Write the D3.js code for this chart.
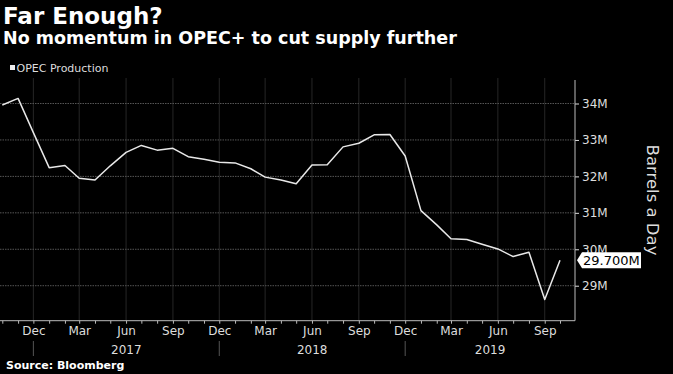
<!DOCTYPE html>
<meta charset="utf-8">
<script src="https://d3js.org/d3.v7.min.js"></script>
<style>
  body { margin: 0; background: #000; }
  text { font-family: "DejaVu Sans", sans-serif; }
</style>
<body>
<div id="my_dataviz"></div>
<script>

// data (million barrels a day, monthly)
var months = ["2016-10","2016-11","2016-12",
  "2017-01","2017-02","2017-03","2017-04","2017-05","2017-06","2017-07","2017-08","2017-09","2017-10","2017-11","2017-12",
  "2018-01","2018-02","2018-03","2018-04","2018-05","2018-06","2018-07","2018-08","2018-09","2018-10","2018-11","2018-12",
  "2019-01","2019-02","2019-03","2019-04","2019-05","2019-06","2019-07","2019-08","2019-09","2019-10"];
var production = [33.96, 34.14, 33.2,
  32.24, 32.30, 31.95, 31.90, 32.29, 32.66, 32.85, 32.72, 32.77, 32.54, 32.47, 32.39,
  32.37, 32.21, 31.98, 31.90, 31.80, 32.31, 32.32, 32.81, 32.91, 33.14, 33.15, 32.56,
  31.06, 30.67, 30.29, 30.27, 30.14, 30.01, 29.80, 29.92, 28.62, 29.70];
var yTicks = [29, 30, 31, 32, 33, 34];
var quarterLabels = {11: "Dec", 2: "Mar", 5: "Jun", 8: "Sep"};
var years = ["2017", "2018", "2019"];

var W = 673, H = 374;
var plotRight = 575, plotTop = 78, plotBottom = 320.7;

var parse = d3.timeParse("%Y-%m");
var data = months.map(function (m, i) { return {date: parse(m), value: production[i]}; });

var svg = d3.select("#my_dataviz")
  .append("svg")
    .attr("width", W)
    .attr("height", H)
    .style("background", "#000");

var x = d3.scaleTime()
  .domain([parse("2016-10"), parse("2019-11")])
  .range([2.3, 575.8]);

var y = d3.scaleLinear()
  .domain([28.04, 34.70])
  .range([plotBottom, plotTop]);

// titles
svg.append("text").attr("x", 3).attr("y", 24)
  .attr("fill", "#fff").attr("font-size", 23).attr("font-weight", "bold")
  .text("Far Enough?");
svg.append("text").attr("x", 3).attr("y", 43.5)
  .attr("fill", "#fff").attr("font-size", 17.5).attr("font-weight", "bold")
  .text("No momentum in OPEC+ to cut supply further");

// legend
svg.append("rect").attr("x", 10).attr("y", 65).attr("width", 5).attr("height", 5).attr("fill", "#eee");
svg.append("text").attr("x", 16.5).attr("y", 71.5)
  .attr("fill", "#ddd").attr("font-size", 11)
  .text("OPEC Production");

// vertical gridlines on quarter months
var allMonths = d3.timeMonth.range(parse("2016-10"), parse("2019-11"));
var quarterMonths = allMonths.filter(function (d) { return quarterLabels[d.getMonth()] !== undefined; });

svg.append("g")
  .selectAll("line")
  .data(quarterMonths)
  .enter()
  .append("line")
    .attr("x1", function (d) { return x(d); })
    .attr("x2", function (d) { return x(d); })
    .attr("y1", plotTop)
    .attr("y2", plotBottom)
    .attr("stroke", "#262626")
    .attr("stroke-width", 1);

// horizontal gridlines
svg.append("g")
  .selectAll("line")
  .data(yTicks)
  .enter()
  .append("line")
    .attr("x1", 0)
    .attr("x2", plotRight)
    .attr("y1", function (d) { return y(d); })
    .attr("y2", function (d) { return y(d); })
    .attr("stroke", "#555")
    .attr("stroke-dasharray", "1.5,1")
    .attr("stroke-width", 1);

// bottom axis
var xAxis = svg.append("g")
  .attr("transform", "translate(0," + plotBottom + ")")
  .call(d3.axisBottom(x)
    .tickValues(allMonths)
    .tickSize(3)
    .tickPadding(2)
    .tickFormat(function (d) { return quarterLabels[d.getMonth()] || ""; }));
xAxis.select(".domain").remove();
xAxis.append("line").attr("x1", 0).attr("x2", plotRight).attr("stroke", "#bbb");
xAxis.selectAll(".tick line").attr("stroke", "#bbb");
xAxis.selectAll(".tick text")
  .attr("fill", "#ddd")
  .attr("font-size", 12)
  .attr("font-family", "DejaVu Sans, sans-serif")
  .attr("y", 14.5)
  .attr("dy", 0);

// year separators and labels
var decembers = allMonths.filter(function (d) { return d.getMonth() === 11; });
svg.append("g")
  .selectAll("line")
  .data(decembers)
  .enter()
  .append("line")
    .attr("x1", function (d) { return x(d); })
    .attr("x2", function (d) { return x(d); })
    .attr("y1", 341)
    .attr("y2", 356)
    .attr("stroke", "#555");

var yearEdges = decembers.map(function (d) { return x(d); }).concat([plotRight]);
svg.append("g")
  .selectAll("text")
  .data(years)
  .enter()
  .append("text")
    .attr("x", function (d, i) { return (yearEdges[i] + yearEdges[i + 1]) / 2; })
    .attr("y", 353.5)
    .attr("text-anchor", "middle")
    .attr("fill", "#ddd")
    .attr("font-size", 12)
    .text(function (d) { return d; });

// right axis
var yAxis = svg.append("g")
  .attr("transform", "translate(" + plotRight + ",0)")
  .call(d3.axisRight(y)
    .tickValues(yTicks)
    .tickSize(4)
    .tickPadding(3)
    .tickFormat(function (d) { return d + "M"; }));
yAxis.select(".domain").remove();
yAxis.append("line").attr("y1", 80).attr("y2", plotBottom).attr("stroke", "#bbb");
yAxis.selectAll(".tick line").attr("stroke", "#ddd");
yAxis.selectAll(".tick text")
  .attr("fill", "#ddd")
  .attr("font-size", 12)
  .attr("font-family", "DejaVu Sans, sans-serif");

svg.append("text")
  .attr("transform", "translate(647,200) rotate(90)")
  .attr("text-anchor", "middle")
  .attr("fill", "#ddd")
  .attr("font-size", 16.5)
  .text("Barrels a Day");

// the line
svg.append("path")
  .datum(data)
  .attr("fill", "none")
  .attr("stroke", "#e8e8e8")
  .attr("stroke-width", 1.5)
  .attr("stroke-linejoin", "round")
  .attr("d", d3.line()
    .x(function (d) { return x(d.date); })
    .y(function (d) { return y(d.value); }));

// last value tag
var last = data[data.length - 1];
var ty = y(last.value);
var tag = svg.append("g").attr("transform", "translate(" + (plotRight + 2) + "," + ty + ")");
tag.append("path")
  .attr("d", "M0,0 L5,-8 L64,-8 L64,8 L5,8 Z")
  .attr("fill", "#fff");
tag.append("text")
  .attr("x", 6)
  .attr("y", 4.8)
  .attr("fill", "#000")
  .attr("font-size", 13)
  .text(d3.format(".3f")(last.value) + "M");

// source
svg.append("text").attr("x", 6).attr("y", 368.5)
  .attr("fill", "#fff").attr("font-size", 11).attr("font-weight", "bold")
  .text("Source: Bloomberg");

</script>
</body>
</html>
